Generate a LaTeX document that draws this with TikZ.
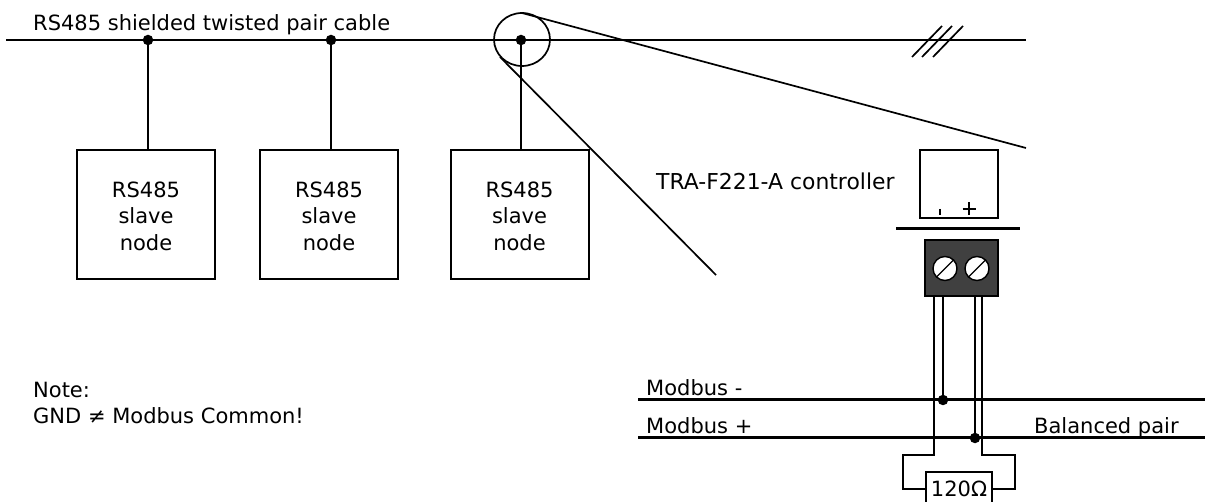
\documentclass[tikz,border=0pt]{standalone}
\usepackage{fontspec}
\setmainfont{DejaVu Sans}
\begin{document}
\begin{tikzpicture}[x=1pt,y=-1pt,
  wire/.style={line width=1.7pt,black},
  bus/.style={line width=3pt,black},
  dotj/.style={circle,fill=black,inner sep=0pt,minimum size=10.5pt},
  slave/.style={draw=black,line width=1.5pt,fill=white,minimum width=138pt,minimum height=129pt,inner sep=0pt},
  slavetext/.style={align=center,font=\fontsize{21}{26.5}\selectfont,inner sep=0pt},
  lab/.style={anchor=base west,inner sep=0pt,font=\fontsize{21}{24}\selectfont},
  screw/.style={circle,draw=black,line width=1.4pt,fill=white,minimum size=24pt,inner sep=0pt}]
\useasboundingbox (0,0) rectangle (1205,502);
\clip (0,0) rectangle (1205,502);
% main cable
\coordinate (cableL) at (6,40);
\coordinate (cableR) at (1026,40);
\draw[wire] (cableL) -- (cableR);
\node[lab] (title) at (33,31) {RS485 shielded twisted pair cable};
\foreach \h in {0,10,21}{
  \draw[wire] (912+\h,57) -- (942+\h,26);
}
% slaves
\node[slave] (s1) at (146,214.5) {};
\node[slave] (s2) at (329,214.5) {};
\node[slave] (s3) at (520,214.5) {};
\node[slavetext] (t1) at (146,216) {RS485\\slave\\node};
\node[slavetext] (t2) at (329,216) {RS485\\slave\\node};
\node[slavetext] (t3) at (519.5,216) {RS485\\slave\\node};
\node[dotj] (j1) at (148,40) {};
\node[dotj] (j2) at (331,40) {};
\node[dotj] (j3) at (521,40) {};
\draw[wire] (j1) -- (j1 |- s1.north);
\draw[wire] (j2) -- (j2 |- s2.north);
\draw[wire] (j3) -- (j3 |- s3.north);
% magnifier
\draw[wire] (522,39.5) ellipse [x radius=28,y radius=26.5];
\coordinate (magA) at (522,13);
\coordinate (magB) at (1026,148);
\coordinate (magC) at (500,57);
\coordinate (magD) at (716,275);
\draw[wire] (magA) -- (magB);
\draw[wire] (magC) -- (magD);
% controller
\node[lab,font=\fontsize{21.9}{24}\selectfont] (ctl) at (656,190) {TRA-F221-A controller};
\node[draw=black,line width=1.4pt,minimum width=78pt,minimum height=68pt,inner sep=0pt] (ctrl) at (959,184) {};
\draw[line width=1.2pt] (962.5,209) -- (975.5,209) (969,202.5) -- (969,215.5);
\draw[line width=1.2pt] (940,209) -- (940,215);
\coordinate (barL) at (896,229);
\coordinate (barR) at (1020,229);
\draw[line width=3pt] (barL) -- (barR);
\node[draw=black,line width=1.2pt,fill=black!75,minimum width=73pt,minimum height=56pt,inner sep=0pt] (term) at (961.5,268) {};
\node[screw] (sc1) at (945,268.5) {};
\node[screw] (sc2) at (977,268.5) {};
\draw[line width=1.4pt] (sc1.south west) -- (sc1.north east);
\draw[line width=1.4pt] (sc2.south west) -- (sc2.north east);
% modbus
\coordinate (m1L) at (638,400); \coordinate (m1R) at (1205,400);
\coordinate (m2L) at (638,438); \coordinate (m2R) at (1205,438);
\draw[bus] (m1L) -- (m1R);
\draw[bus] (m2L) -- (m2R);
\node[lab] (mm) at (646,396) {Modbus -};
\node[lab] (mp) at (646,434) {Modbus +};
\node[lab] (bp) at (1034,434) {Balanced pair};
\node[dotj] (jm) at (943,400) {};
\node[dotj] (jp) at (975,438) {};
\draw[wire] (jm) -- (jm |- term.south);
\draw[wire] (jp) -- (jp |- term.south);
\node[draw=black,line width=1.3pt,minimum width=66pt,minimum height=34pt,inner sep=0pt,font=\fontsize{21}{24}\selectfont] (res) at (959,489) {120Ω};
\draw[wire] (934,296) -- (934,455) -- (903,455) |- (res.west);
\draw[wire] (982,296) -- (982,455) -- (1015,455) |- (res.east);
% note
\node[lab] (n1) at (33,398) {Note:};
\node[lab] (n2) at (33,424) {GND ≠ Modbus Common!};
\end{tikzpicture}
\end{document}
